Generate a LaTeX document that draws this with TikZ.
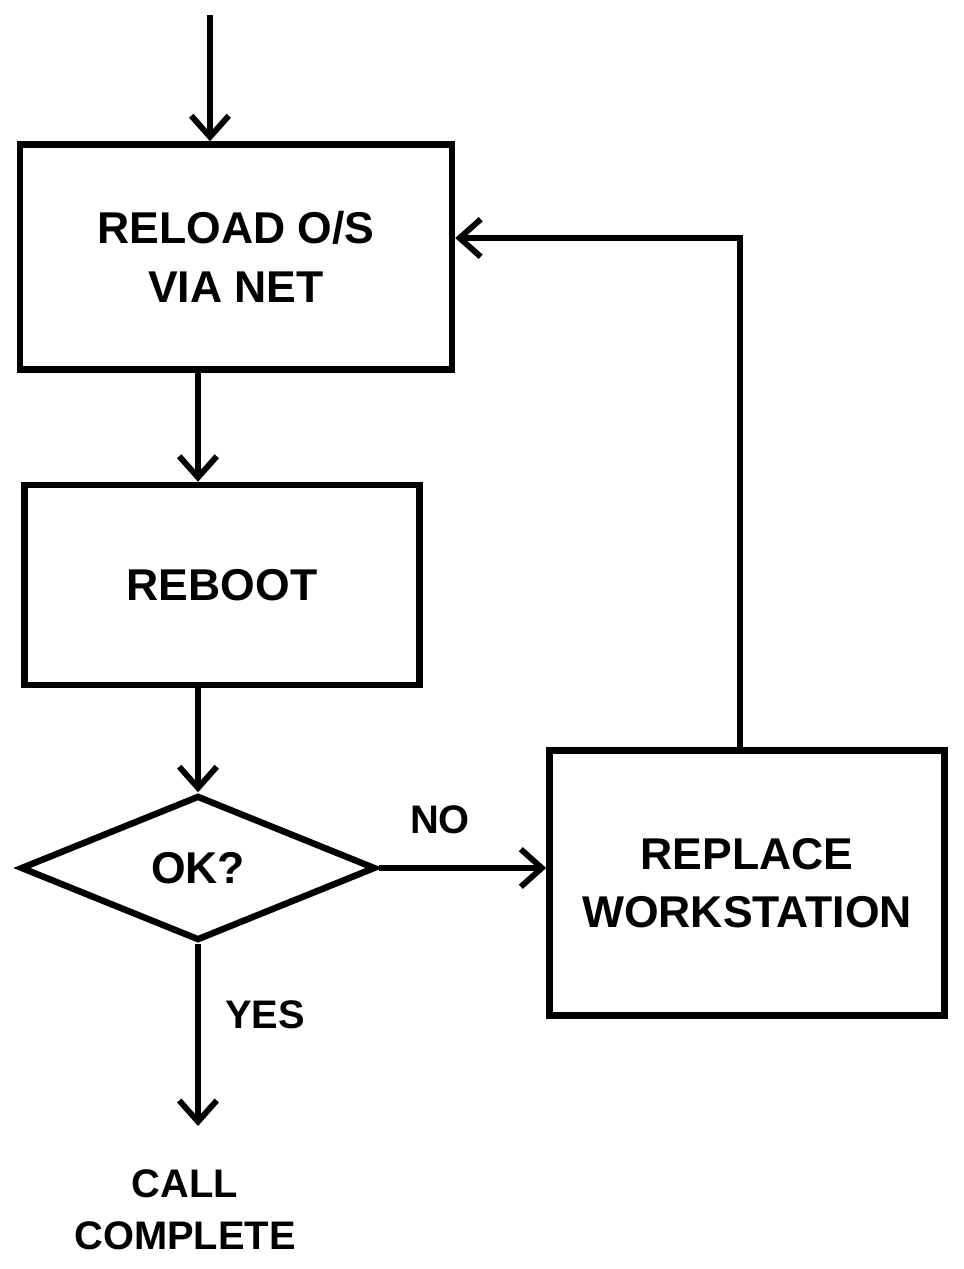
\documentclass[tikz,border=0pt]{standalone}
\usepackage{fontspec}
\setsansfont{Liberation Sans}
\usetikzlibrary{arrows.meta,shapes.geometric}
\tikzset{
  box/.style={draw, line width=5.5pt, align=center, font=\sffamily\bfseries\fontsize{38}{50}\selectfont},
  decision/.style={draw, diamond, line width=5.5pt, inner sep=0pt, font=\sffamily\bfseries\fontsize{38}{50}\selectfont},
  lbl/.style={font=\sffamily\bfseries\fontsize{34}{44}\selectfont, align=center},
  arr/.style={line width=5pt, -{Straight Barb[length=18pt,width=32pt,line width=5pt]}}
}
\begin{document}
\begin{tikzpicture}[x=0.03cm, y=-0.03cm]
\useasboundingbox[fill=white] (0,0) rectangle (964,1269);
\node[box, minimum width=12.96cm, minimum height=6.75cm] (reload) at (236,257){RELOAD O/S\\VIA NET};
\node[box, minimum width=11.85cm, minimum height=6cm] (reboot) at (222,585){REBOOT};
\node[decision, minimum width=10.65cm, minimum height=4.35cm] (ok) at (198,868){OK?};
\node[box, minimum width=11.85cm, minimum height=7.95cm] (replace) at (747,883){REPLACE\\WORKSTATION};
\node[lbl] (done) at (185,1210){CALL\\COMPLETE};
\node[lbl] (no) at (440,820){NO};
\node[lbl] (yes) at (265,1015){YES};
\coordinate (start) at (210,15);
\coordinate (turn) at (740,238);
\draw[arr](start) -- (start |- reload.north);
\draw[arr](reload.south -| ok) -- (reboot.north -| ok);
\draw[arr](reboot.south -| ok) -- (ok.north);
\draw[arr](ok.east) -- (ok.east -| replace.west);
\draw[arr, shorten >=1.2cm](ok.south) -- (ok.south |- done.north);
\draw[arr](replace.north -| turn) -- (turn) -- (turn -| reload.east);

\end{tikzpicture}
\end{document}
